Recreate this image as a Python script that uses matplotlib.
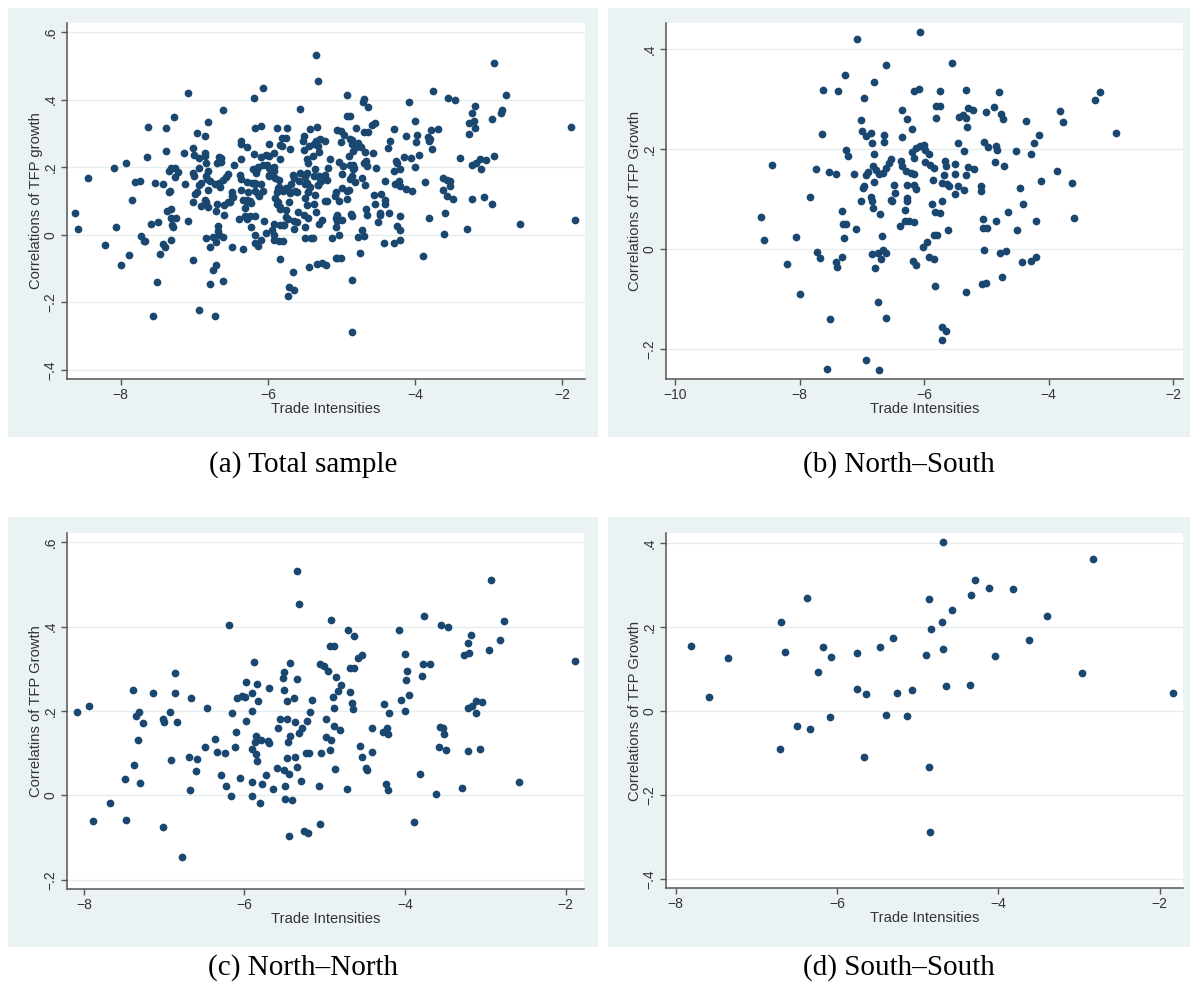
import matplotlib
matplotlib.use("Agg")
import matplotlib.pyplot as plt
from matplotlib.patches import Rectangle
from matplotlib.ticker import FuncFormatter
import numpy as np

# ---- data: (trade intensity, TFP growth correlation) ----
# North-South pairs
ns_x = [-7.63, -7.38, -7.64, -8.44, -7.74, -7.53, -7.42, -7.84, -8.62, -8.58, -8.06, -7.32,
        -7.31, -7.25, -7.29, -7.72, -7.68, -7.32, -7.42, -7.40, -8.21, -8.00, -7.51, -7.56,
        -7.08, -6.07, -6.61, -5.56, -7.28, -6.81, -6.97, -6.17, -6.09, -5.74, -5.33, -4.80,
        -6.36, -5.81, -5.75, -5.81, -5.44, -5.37, -5.29, -5.22, -5.32, -5.31, -5.01, -4.88,
        -4.77, -4.73, -7.02, -7.00, -6.94, -6.86, -6.28, -6.19, -6.36, -6.64, -6.64, -6.84,
        -7.26, -7.22, -6.81, -6.20, -6.13, -6.07, -6.01, -5.98, -6.16, -5.92, -5.99, -5.90,
        -5.85, -5.46, -5.36, -5.04, -4.98, -4.84, -4.83, -4.86, -4.72, -6.54, -6.57, -6.61,
        -6.67, -6.72, -6.78, -6.83, -6.91, -6.94, -6.38, -6.36, -7.13, -6.96, -6.99, -6.81,
        -6.49, -6.47, -6.52, -6.29, -6.22, -6.17, -6.27, -6.28, -6.28, -6.17, -6.13, -5.86,
        -5.66, -5.65, -5.50, -5.68, -5.72, -5.50, -5.32, -5.29, -5.20, -5.63, -5.60, -5.45,
        -5.36, -5.50, -5.08, -5.09, -7.02, -6.86, -6.84, -6.82, -6.71, -6.54, -6.31, -5.87,
        -5.71, -5.83, -5.75, -6.31, -6.24, -6.17, -6.39, -7.09, -6.68, -5.84, -5.79, -5.95,
        -6.02, -5.61, -5.06, -4.99, -5.06, -4.85, -4.66, -4.51, -5.04, -4.78, -4.69, -6.84,
        -6.74, -6.66, -6.61, -6.70, -6.79, -6.18, -6.13, -5.92, -5.85, -5.83, -5.33, -5.07,
        -5.01, -4.75, -6.74, -6.61, -5.71, -5.65, -5.72, -6.93, -6.72, -3.18, -3.26, -3.81,
        -3.77, -4.37, -2.92, -4.15, -4.24, -4.28, -4.53, -3.87, -4.12, -3.62, -4.46, -4.41,
        -4.21, -3.59, -4.42, -4.29, -4.20]
ns_y = [0.319, 0.317, 0.231, 0.168, 0.160, 0.154, 0.150, 0.104, 0.065, 0.018, 0.024, 0.076,
        0.050, 0.050, 0.023, -0.005, -0.018, -0.015, -0.026, -0.035, -0.029, -0.090, -0.140, -0.240,
        0.421, 0.434, 0.369, 0.373, 0.348, 0.334, 0.302, 0.316, 0.321, 0.316, 0.319, 0.315,
        0.279, 0.287, 0.286, 0.263, 0.264, 0.269, 0.283, 0.278, 0.263, 0.244, 0.275, 0.285,
        0.271, 0.261, 0.258, 0.236, 0.226, 0.232, 0.260, 0.240, 0.224, 0.228, 0.214, 0.212,
        0.199, 0.187, 0.190, 0.195, 0.202, 0.207, 0.208, 0.198, 0.183, 0.190, 0.174, 0.168,
        0.163, 0.212, 0.196, 0.214, 0.204, 0.206, 0.199, 0.175, 0.167, 0.180, 0.172, 0.163,
        0.152, 0.151, 0.158, 0.166, 0.154, 0.148, 0.176, 0.166, 0.150, 0.126, 0.122, 0.134,
        0.128, 0.112, 0.096, 0.157, 0.152, 0.151, 0.128, 0.103, 0.096, 0.129, 0.121, 0.138,
        0.176, 0.167, 0.171, 0.149, 0.133, 0.151, 0.148, 0.164, 0.161, 0.130, 0.126, 0.126,
        0.118, 0.110, 0.126, 0.116, 0.096, 0.104, 0.096, 0.082, 0.070, 0.098, 0.079, 0.091,
        0.096, 0.075, 0.073, 0.056, 0.057, 0.055, 0.047, 0.041, 0.026, 0.029, 0.029, 0.015,
        0.004, 0.039, 0.042, 0.043, 0.060, 0.056, 0.075, 0.039, -0.001, -0.008, -0.003, -0.010,
        -0.007, -0.001, -0.008, -0.020, -0.037, -0.023, -0.032, -0.015, -0.019, -0.073, -0.086, -0.069,
        -0.068, -0.055, -0.105, -0.137, -0.155, -0.163, -0.181, -0.222, -0.241, 0.315, 0.299, 0.277,
        0.254, 0.257, 0.232, 0.229, 0.212, 0.190, 0.197, 0.156, 0.136, 0.132, 0.122, 0.091,
        0.056, 0.063, -0.025, -0.023, -0.015]

# North-North pairs
nn_x = [-6.19, -6.86, -7.39, -7.14, -6.86, -6.66, -6.09, -6.03, -5.99, -7.93, -8.09, -6.46,
        -7.31, -7.35, -6.93, -7.02, -7.00, -6.84, -7.26, -6.15, -6.10, -7.33, -6.37, -6.49,
        -6.34, -6.24, -6.12, -6.91, -6.69, -6.59, -6.60, -7.37, -7.49, -7.30, -6.29, -6.05,
        -6.23, -6.17, -6.68, -7.67, -7.89, -7.47, -7.02, -6.78,
        -5.35, -5.32, -4.92, -4.71, -4.64, -4.08, -4.93, -4.88, -4.58, -4.54, -4.00, -3.98,
        -3.99, -5.88, -5.43, -5.06, -5.01, -4.96, -4.69, -4.64, -5.51, -5.52, -5.35, -4.86,
        -5.98, -5.84, -5.70, -5.51, -4.80, -4.84, -4.68, -5.91, -5.83, -5.91, -5.98, -5.47,
        -5.38, -5.16, -5.18, -5.56, -5.47, -5.58, -5.37, -5.22, -5.28, -5.32, -5.43, -5.46,
        -4.99, -4.88, -4.90, -4.88, -4.81, -4.99, -4.92, -4.66, -4.65, -4.41, -4.26, -4.20,
        -4.05, -4.00, -3.95, -4.27, -4.22, -4.21, -4.56, -4.54, -4.48, -4.47, -4.41, -4.24,
        -4.21, -4.72, -4.87, -4.93, -5.04, -5.23, -5.19, -5.37, -5.47, -5.34, -5.59, -5.51,
        -5.45, -5.30, -5.07, -5.49, -5.64, -5.49, -5.41, -5.91, -5.80, -5.91, -5.78, -5.73,
        -5.90, -5.86, -5.84, -5.85, -5.79, -5.87, -5.71, -5.70, -5.44, -5.26, -5.21, -5.06,
        -3.89,
        -2.93, -3.76, -3.55, -3.46, -2.77, -3.18, -3.22, -3.20, -3.27, -2.82, -2.95, -1.88,
        -3.78, -3.69, -3.79, -3.22, -3.17, -3.12, -3.04, -3.11, -3.56, -3.53, -3.52, -3.57,
        -3.49, -3.22, -3.06, -3.81, -3.61, -3.29, -2.58]
nn_y = [0.404, 0.291, 0.249, 0.242, 0.242, 0.231, 0.230, 0.236, 0.234, 0.212, 0.197, 0.206,
        0.198, 0.188, 0.198, 0.182, 0.174, 0.174, 0.171, 0.195, 0.151, 0.131, 0.133, 0.115,
        0.103, 0.100, 0.115, 0.084, 0.091, 0.087, 0.058, 0.071, 0.039, 0.030, 0.048, 0.040,
        0.023, -0.002, 0.012, -0.017, -0.060, -0.058, -0.075, -0.146,
        0.533, 0.454, 0.415, 0.392, 0.378, 0.392, 0.353, 0.353, 0.326, 0.332, 0.336, 0.295,
        0.274, 0.315, 0.313, 0.311, 0.306, 0.296, 0.303, 0.303, 0.293, 0.278, 0.277, 0.280,
        0.269, 0.265, 0.254, 0.250, 0.261, 0.248, 0.246, 0.242, 0.224, 0.200, 0.176, 0.224,
        0.232, 0.225, 0.198, 0.182, 0.182, 0.160, 0.173, 0.177, 0.160, 0.147, 0.141, 0.126,
        0.181, 0.208, 0.234, 0.164, 0.156, 0.139, 0.131, 0.218, 0.205, 0.160, 0.217, 0.195,
        0.226, 0.200, 0.237, 0.151, 0.160, 0.145, 0.118, 0.092, 0.065, 0.060, 0.103, 0.026,
        0.013, 0.014, 0.062, 0.107, 0.101, 0.100, 0.100, 0.092, 0.088, 0.067, 0.066, 0.060,
        0.050, 0.033, 0.023, 0.023, 0.016, -0.009, -0.011, -0.002, -0.017, 0.031, 0.028, 0.048,
        0.110, 0.098, 0.082, 0.141, 0.131, 0.127, 0.130, 0.123, -0.096, -0.085, -0.090, -0.068,
        -0.064,
        0.510, 0.425, 0.404, 0.398, 0.413, 0.380, 0.361, 0.338, 0.332, 0.369, 0.344, 0.318,
        0.311, 0.312, 0.284, 0.206, 0.213, 0.224, 0.221, 0.196, 0.163, 0.159, 0.145, 0.114,
        0.107, 0.106, 0.111, 0.050, 0.003, 0.018, 0.032]

# South-South pairs
ss_x = [-7.81, -7.59, -7.35, -6.71, -6.69, -6.65, -6.49, -6.37, -6.34, -6.23, -6.17, -6.09,
        -6.07, -5.75, -5.75, -5.66, -5.64, -5.47, -5.39, -5.30, -5.26, -5.13, -5.07, -4.90,
        -4.86, -4.86, -4.85, -4.84, -4.70, -4.69, -4.68, -4.65, -4.57, -4.35, -4.34, -4.29,
        -4.12, -4.04, -3.82, -3.62, -3.39, -2.96, -2.83, -1.83]
ss_y = [0.156, 0.033, 0.127, -0.090, 0.212, 0.140, -0.035, 0.269, -0.042, 0.094, 0.152, -0.014,
        0.130, 0.139, 0.052, -0.110, 0.040, 0.153, -0.010, 0.175, 0.043, -0.011, 0.051, 0.133,
        0.268, -0.133, -0.287, 0.195, 0.213, 0.402, 0.147, 0.060, 0.241, 0.063, 0.277, 0.313,
        0.292, 0.131, 0.290, 0.169, 0.227, 0.090, 0.362, 0.044]

captions = ["(a) Total sample", "(b) North\u2013South", "(c) North\u2013North", "(d) South\u2013South"]
ylabels = ["Correlations of TFP growth", "Correlations of TFP Growth",
           "Correlatins of TFP Growth", "Correlations of TFP Growth"]
xticks = [[-8, -6, -4, -2], [-10, -8, -6, -4, -2], [-8, -6, -4, -2], [-8, -6, -4, -2]]
yticks = [[-0.4, -0.2, 0, 0.2, 0.4, 0.6], [-0.2, 0, 0.2, 0.4],
          [-0.2, 0, 0.2, 0.4, 0.6], [-0.4, -0.2, 0, 0.2, 0.4]]

# panel a is all pairs together
all_x = ns_x + nn_x + ss_x
all_y = ns_y + nn_y + ss_y
series = [(all_x, all_y), (ns_x, ns_y), (nn_x, nn_y), (ss_x, ss_y)]

W, H = 1194, 994
BG = "#eaf2f3"
NAVY = "#1a476f"
AXC = "#555555"

plt.rcParams["font.family"] = ["Liberation Sans", "DejaVu Sans"]

fig = plt.figure(figsize=(W / 100, H / 100), dpi=100)
fig.patch.set_facecolor("white")

# pixel layout: gray box, plot region, axis limits
boxes = [(8, 8, 598, 437), (608, 8, 1190, 437), (8, 517, 598, 947), (608, 517, 1190, 947)]
plots = [(67, 23, 585, 379), (666, 23, 1183, 379), (67, 533, 584, 889), (666, 533, 1183, 888)]
xlims = [(-8.73, -1.69), (-10.15, -1.84), (-8.21, -1.77), (-8.12, -1.71)]
ylims = [(-0.427, 0.627), (-0.260, 0.453), (-0.222, 0.622), (-0.421, 0.424)]
cap_y = [465, 465, 968, 968]


def stata_fmt(v, pos):
    s = f"{v:g}"
    s = s.replace("0.", ".")
    return s.replace("-", "\u2212")


for i in range(4):
    x0, y0, x1, y1 = boxes[i]
    fig.patches.append(Rectangle((x0 / W, 1 - y1 / H), (x1 - x0) / W, (y1 - y0) / H,
                                 transform=fig.transFigure, facecolor=BG,
                                 edgecolor="none", zorder=-5))
    px0, py0, px1, py1 = plots[i]
    ax = fig.add_axes([px0 / W, 1 - py1 / H, (px1 - px0) / W, (py1 - py0) / H], zorder=2)
    ax.set_facecolor("white")
    ax.set_xlim(*xlims[i])
    ax.set_ylim(*ylims[i])
    ax.set_xticks(xticks[i])
    ax.set_yticks(yticks[i])
    ax.xaxis.set_major_formatter(FuncFormatter(stata_fmt))
    ax.yaxis.set_major_formatter(FuncFormatter(stata_fmt))
    ax.grid(axis="y", color="#e4ecee", linewidth=0.9)
    ax.set_axisbelow(True)
    for side in ["top", "right"]:
        ax.spines[side].set_visible(False)
    for side in ["left", "bottom"]:
        ax.spines[side].set_color(AXC)
        ax.spines[side].set_linewidth(1.1)
    ax.tick_params(length=4.3, width=1.0, color=AXC, labelsize=10,
                   labelcolor="#333333", pad=2.5)
    for lab in ax.get_yticklabels():
        lab.set_rotation(90)
        lab.set_va("center")

    xs, ys = series[i]
    ax.scatter(xs, ys, s=31, color=NAVY, linewidths=0, zorder=3, clip_on=False)

    ax.text(0.5, -0.085, "Trade Intensities", transform=ax.transAxes,
            ha="center", va="center", fontsize=10.6, color="#333333")
    ax.text(-31 / (px1 - px0), 0.5, ylabels[i], transform=ax.transAxes,
            rotation=90, ha="center", va="center", fontsize=10.6, color="#333333")

    fig.text(((x0 + x1) / 2) / W, 1 - cap_y[i] / H, captions[i],
             ha="center", va="center", fontsize=21,
             family=["Liberation Serif", "DejaVu Serif"])

fig.savefig("out.png", dpi=100, facecolor="white")
